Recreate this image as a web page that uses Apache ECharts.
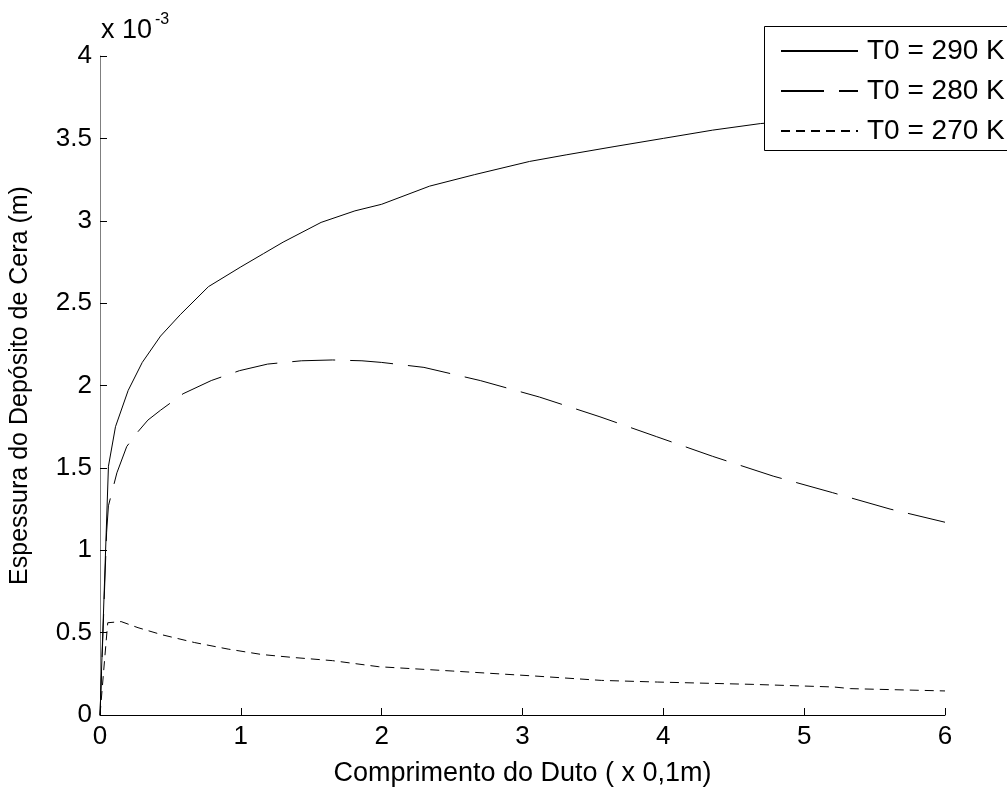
<!DOCTYPE html>
<html>
<head>
<meta charset="utf-8">
<script src="https://cdn.jsdelivr.net/npm/echarts@6/dist/echarts.min.js"></script>
<style>html,body{margin:0;padding:0;background:#fff}#c{width:1007px;height:792px}</style>
</head>
<body>
<div id="c"></div>
<script>
// values in units of 1e-3 m, x in units of 0.1 m
const x290 = [0, 0.06, 0.11, 0.2, 0.3, 0.43, 0.57, 0.77, 1.0, 1.16, 1.3, 1.57, 1.81, 2.0, 2.34, 2.66, 3.05, 3.31, 3.65, 4.0, 4.35, 4.69, 5.0, 5.5, 6.0];
const y290 = [0, 1.51, 1.75, 1.97, 2.14, 2.30, 2.43, 2.60, 2.72, 2.80, 2.87, 2.99, 3.06, 3.10, 3.21, 3.28, 3.36, 3.40, 3.45, 3.50, 3.55, 3.59, 3.61, 3.64, 3.67];

const x280 = [0, 0.047, 0.06, 0.12, 0.19, 0.27, 0.34, 0.43, 0.59, 0.79, 0.99, 1.19, 1.43, 1.65, 1.86, 2.0, 2.3, 2.7, 3.12, 3.55, 3.95, 4.35, 4.78, 5.2, 5.61, 6.0];
const y280 = [0, 1.11, 1.27, 1.47, 1.63, 1.72, 1.79, 1.85, 1.95, 2.03, 2.09, 2.13, 2.15, 2.155, 2.15, 2.14, 2.11, 2.03, 1.93, 1.81, 1.69, 1.57, 1.45, 1.35, 1.25, 1.17];

const x270 = [0, 0.036, 0.055, 0.15, 0.27, 0.44, 0.67, 0.91, 1.15, 1.36, 1.65, 1.98, 2.5, 3.08, 3.56, 3.96, 4.63, 5.21, 5.33, 6.0];
const y270 = [0, 0.37, 0.56, 0.567, 0.53, 0.487, 0.44, 0.40, 0.367, 0.35, 0.33, 0.293, 0.267, 0.237, 0.21, 0.20, 0.186, 0.17, 0.16, 0.146];

const seriesNames = ['T0 = 290 K', 'T0 = 280 K', 'T0 = 270 K'];
const xTicks = [0, 1, 2, 3, 4, 5, 6];
const yTicks = [0, 0.5, 1, 1.5, 2, 2.5, 3, 3.5, 4];
const xTitle = 'Comprimento do Duto ( x 0,1m)';
const yTitle = 'Espessura do Depósito de Cera (m)';
const expBase = 'x 10';
const expPow = '-3';

const FONT = "'Liberation Sans', Arial, sans-serif";
const pair = (xs, ys) => xs.map((v, i) => [v, ys[i]]);

const chart = echarts.init(document.getElementById('c'), null, {renderer: 'canvas'});
chart.setOption({
  animation: false,
  backgroundColor: '#fff',
  textStyle: {fontFamily: FONT, color: '#000'},
  grid: {left: 100, right: 62, top: 56, bottom: 71, containLabel: false},
  xAxis: {
    type: 'value', min: 0, max: 6, interval: 1,
    name: xTitle, nameLocation: 'middle', nameGap: 45,
    nameTextStyle: {fontSize: 27, fontFamily: FONT, color: '#000'},
    axisLine: {lineStyle: {color: '#000', width: 1}},
    axisTick: {inside: true, length: 7, lineStyle: {color: '#000'}},
    axisLabel: {fontSize: 26, fontFamily: FONT, color: '#000', margin: 9,
      formatter: v => xTicks.includes(v) ? String(v) : ''},
    splitLine: {show: false}
  },
  yAxis: {
    type: 'value', min: 0, max: 4, interval: 0.5,
    name: yTitle, nameLocation: 'middle', nameGap: 67,
    nameTextStyle: {fontSize: 25, fontFamily: FONT, color: '#000'},
    axisLine: {lineStyle: {color: '#7f7f7f', width: 1}},
    axisTick: {inside: true, length: 7, lineStyle: {color: '#000'}},
    axisLabel: {fontSize: 26, fontFamily: FONT, color: '#000', margin: 8,
      formatter: v => yTicks.includes(v) ? String(v) : ''},
    splitLine: {show: false}
  },
  legend: {
    left: 764, top: 37, orient: 'vertical',
    data: seriesNames,
    backgroundColor: 'transparent', borderWidth: 0,
    padding: [0, 0, 0, 16],
    itemWidth: 77, itemHeight: 26, itemGap: 12,
    itemStyle: {opacity: 0},
    textStyle: {fontSize: 28, fontFamily: FONT, color: '#000', lineHeight: 26, padding: [0, 0, 0, 4]},
    selectedMode: false,
    zlevel: 1, z: 10
  },
  graphic: [
    {type: 'rect', zlevel: 1, z: 1, silent: true, shape: {x: 764.5, y: 26.5, width: 320, height: 124},
      style: {fill: '#fff', stroke: '#000', lineWidth: 1}},
    {type: 'text', left: 101, top: 17, style: {text: expBase, font: '27px ' + FONT, fill: '#000'}, silent: true},
    {type: 'text', left: 155, top: 12, style: {text: expPow, font: '16px ' + FONT, fill: '#000'}, silent: true}
  ],
  series: [
    {name: seriesNames[0], type: 'line', data: pair(x290, y290), showSymbol: false, symbol: 'none',
      lineStyle: {color: '#000', width: 1, type: 'solid'}, itemStyle: {color: '#000'}},
    {name: seriesNames[1], type: 'line', data: pair(x280, y280), showSymbol: false, symbol: 'none',
      lineStyle: {color: '#000', width: 1, type: [43, 15]}, itemStyle: {color: '#000'}},
    {name: seriesNames[2], type: 'line', data: pair(x270, y270), showSymbol: false, symbol: 'none',
      lineStyle: {color: '#000', width: 1, type: [9, 6]}, itemStyle: {color: '#000'}}
  ]
});
</script>
</body>
</html>
